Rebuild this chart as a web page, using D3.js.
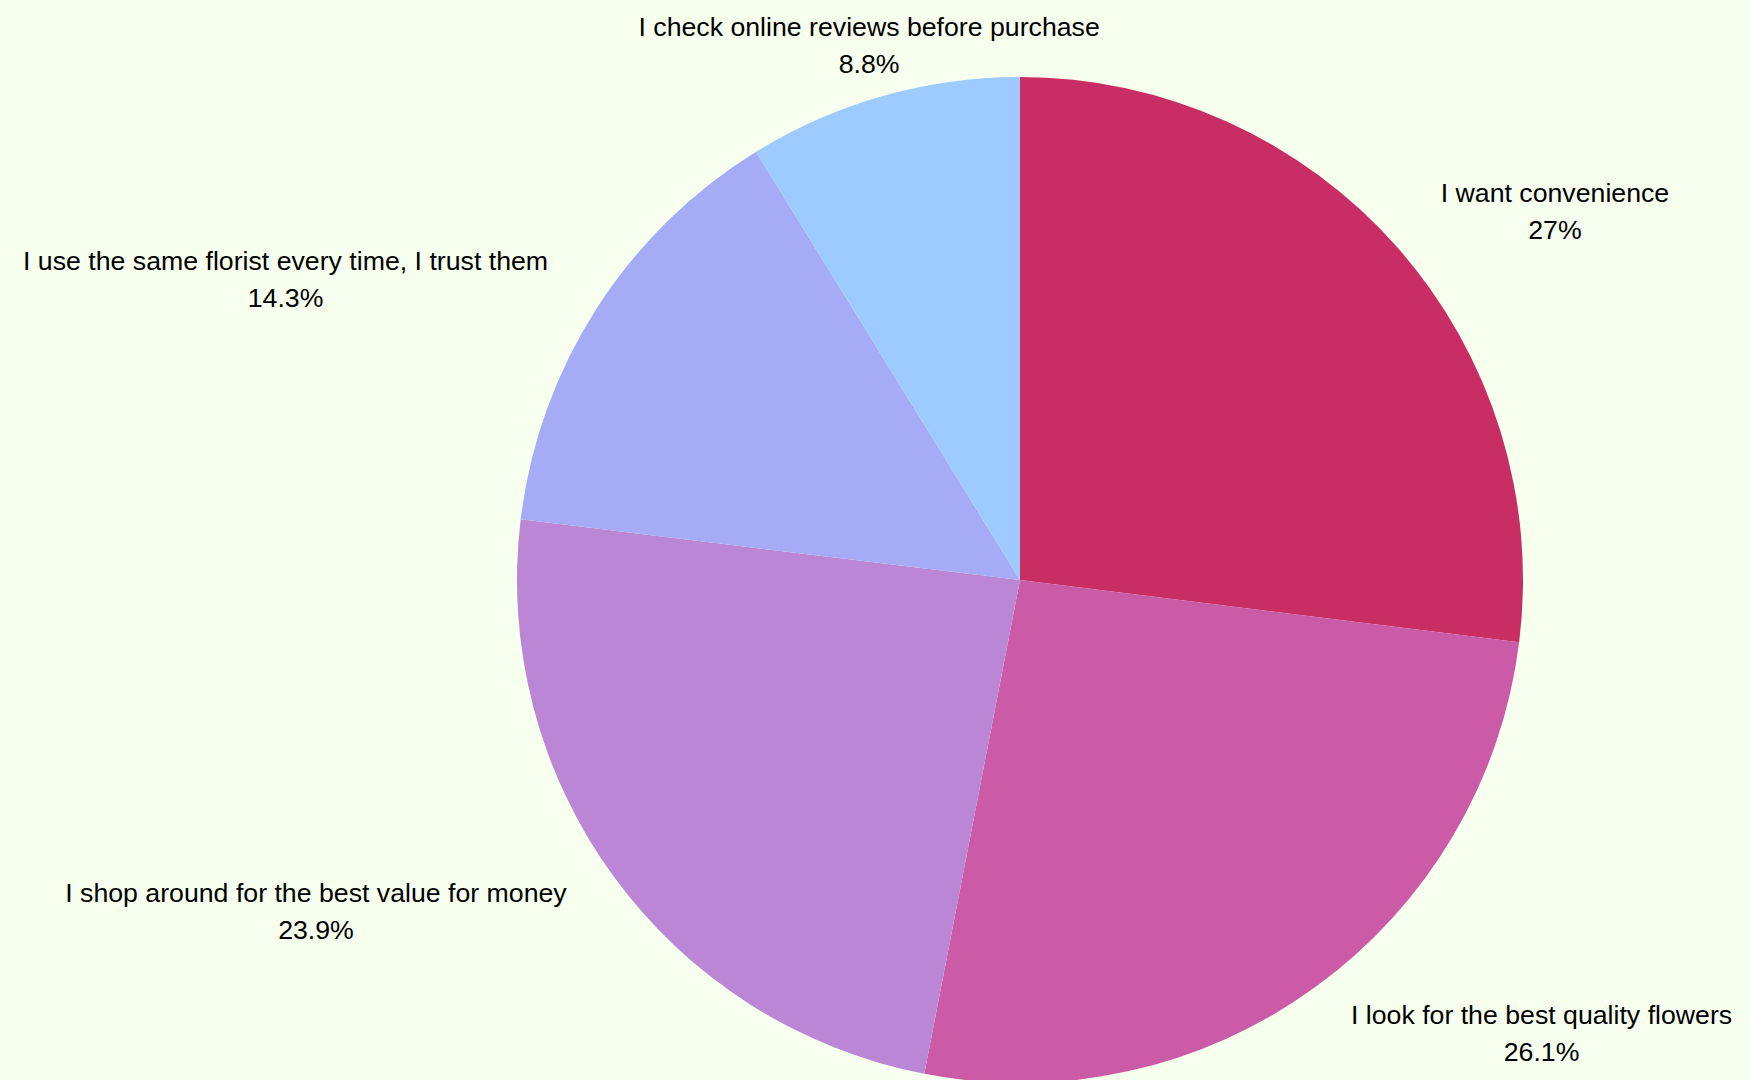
<!DOCTYPE html>
<html lang="en">
<head>
<meta charset="utf-8">
<title>Why I choose my florist</title>
<script src="https://cdn.jsdelivr.net/npm/d3@7"></script>
<style>
  html, body { margin: 0; padding: 0; background: #f7ffee; }
  svg { display: block; }
  .lbl { font-family: "Liberation Sans", Arial, sans-serif; font-size: 26.7px; fill: #000; }
</style>
</head>
<body>
<div id="chart"></div>
<script>
// data, clockwise from 12 o'clock
var categories = [
  "I want convenience",
  "I look for the best quality flowers",
  "I shop around for the best value for money",
  "I use the same florist every time, I trust them",
  "I check online reviews before purchase"
];
var values = [27, 26.1, 23.9, 14.3, 8.8];
var valueLabels = ["27%", "26.1%", "23.9%", "14.3%", "8.8%"];
var colors = ["#c82e63", "#cb5ba6", "#bb86d6", "#a5abf4", "#9ecbff"];

var width = 1749, height = 1080;
var cx = 1020, cy = 580, radius = 503;
var lineGap = 37;

var svg = d3.select("#chart")
  .append("svg")
  .attr("width", width)
  .attr("height", height);

var rows = categories.map(function(c, i) {
  return { name: c, value: values[i], label: valueLabels[i], color: colors[i] };
});

var pie = d3.pie()
  .sort(null)
  .value(function(d) { return d.value; });

var arc = d3.arc()
  .innerRadius(0)
  .outerRadius(radius);

var g = svg.append("g")
  .attr("transform", "translate(" + cx + "," + cy + ")");

var arcs = pie(rows);

g.selectAll("path.slice")
  .data(arcs)
  .enter()
  .append("path")
    .attr("class", "slice")
    .attr("d", arc)
    .attr("fill", function(d) { return d.data.color; });

// labels sit outside, aligned by the quadrant of the slice mid angle
var labelR = radius * 1.1;

arcs.forEach(function(d) {
  var a = (d.startAngle + d.endAngle) / 2;
  var px = labelR * Math.sin(a);
  var py = -labelR * Math.cos(a);

  // math angle, counter-clockwise from 3 o'clock
  var deg = (90 - a * 180 / Math.PI + 360) % 360;
  var h = 0, v = 0;
  if (deg <= 22.5 || deg > 337.5) { h = 1; }
  else if (deg < 67.5) { h = 1; v = -1; }
  else if (deg < 112.5) { v = -1; }
  else if (deg <= 157.5) { h = -1; v = -1; }
  else if (deg <= 202.5) { h = -1; }
  else if (deg < 247.5) { h = -1; v = 1; }
  else if (deg < 292.5) { v = 1; }
  else { h = 1; v = 1; }

  var t = g.append("text")
    .attr("class", "lbl")
    .attr("text-anchor", "middle");
  var l1 = t.append("tspan").text(d.data.name);
  var l2 = t.append("tspan").text(d.data.label);

  var w = Math.max(l1.node().getComputedTextLength(), l2.node().getComputedTextLength());
  var x = px + h * (6 + w / 2);

  var y1;
  if (v < 0) { y1 = py - 12; }
  else if (v > 0) { y1 = py - 4; }
  else { y1 = py - lineGap / 2 + 9; }

  l1.attr("x", x).attr("y", y1);
  l2.attr("x", x).attr("y", y1 + lineGap);
});
</script>
</body>
</html>
